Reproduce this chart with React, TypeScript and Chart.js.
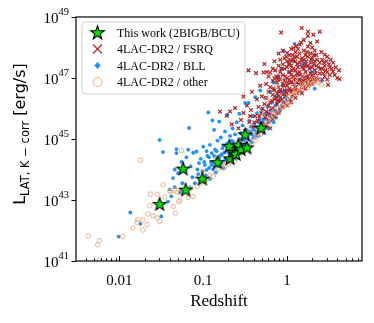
import React, { useEffect, useRef } from "react";
import { Chart, registerables } from "chart.js";
Chart.register(...registerables);

// All points are [log10(redshift), log10(L / erg s^-1)].
const starPts: [number, number][] = [
  [-1.52, 42.87], [-1.21, 43.34], [-1.24, 44.03], [-1.01, 43.70], [-0.83, 44.24],
  [-0.68, 44.37], [-0.64, 44.59], [-0.69, 44.77], [-0.61, 44.51], [-0.58, 44.81],
  [-0.55, 44.67], [-0.48, 44.72], [-0.50, 45.15], [-0.31, 45.37],
];

const fsrqPts: [number, number][] = [
  [-0.80, 45.90], [-0.72, 45.76], [-0.68, 45.90], [-0.66, 45.48], [-0.62, 46.02], [-0.58, 45.35],
  [-0.55, 45.62], [-0.52, 45.85], [-0.52, 46.39], [-0.50, 45.25], [-0.48, 46.10], [-0.46, 47.25],
  [-0.45, 45.55], [-0.43, 45.95], [-0.42, 46.55], [-0.40, 45.40], [-0.38, 45.75], [-0.37, 47.16],
  [-0.36, 46.30], [-0.35, 45.60], [-0.34, 46.05], [-0.33, 45.30], [-0.32, 46.75], [-0.31, 45.85],
  [-0.30, 46.40], [-0.29, 45.50], [-0.28, 47.18], [-0.27, 47.46], [-0.27, 46.15], [-0.26, 45.70],
  [-0.24, 47.20], [-0.20, 47.18], [-0.14, 47.25],
  [-0.25, 45.45], [-0.25, 45.90], [-0.25, 46.35], [-0.25, 46.80],
  [-0.22, 45.60], [-0.22, 46.10], [-0.22, 46.55], [-0.22, 47.05],
  [-0.20, 45.80], [-0.20, 46.20], [-0.20, 45.35], [-0.20, 46.70],
  [-0.17, 45.65], [-0.17, 46.00], [-0.17, 46.45], [-0.17, 46.90], [-0.17, 47.30],
  [-0.15, 45.75], [-0.15, 46.30], [-0.15, 46.60], [-0.15, 47.00], [-0.15, 47.55],
  [-0.12, 45.90], [-0.12, 46.15], [-0.12, 46.50], [-0.12, 46.85],
  [-0.10, 45.85], [-0.10, 46.40], [-0.10, 46.70], [-0.10, 47.05], [-0.10, 47.40], [-0.10, 47.80],
  [-0.08, 46.00], [-0.08, 46.25], [-0.08, 46.60], [-0.08, 46.95], [-0.08, 47.20], [-0.08, 47.60],
  [-0.07, 48.49],
  [-0.05, 46.05], [-0.05, 46.45], [-0.05, 46.80], [-0.05, 47.10], [-0.05, 47.45], [-0.05, 47.90],
  [-0.03, 46.20], [-0.03, 46.60], [-0.03, 46.90], [-0.03, 47.30], [-0.03, 47.65],
  [0.00, 46.10], [0.00, 46.50], [0.00, 46.75], [0.00, 47.00], [0.00, 47.35], [0.00, 47.82], [0.00, 47.55],
  [0.03, 46.30], [0.03, 46.65], [0.03, 46.95], [0.03, 47.20], [0.03, 47.50], [0.03, 47.75],
  [0.05, 46.20], [0.05, 46.55], [0.05, 46.85], [0.05, 47.10], [0.05, 47.40], [0.05, 47.95],
  [0.075, 46.45], [0.075, 46.80], [0.075, 47.05], [0.075, 47.30], [0.075, 47.60], [0.075, 47.98],
  [0.10, 46.35], [0.10, 46.70], [0.10, 47.00], [0.10, 47.25], [0.10, 47.55], [0.10, 47.85],
  [0.12, 46.50], [0.12, 46.85], [0.12, 47.15], [0.12, 47.45], [0.12, 47.70],
  [0.15, 46.60], [0.15, 46.95], [0.15, 47.20], [0.15, 47.50], [0.15, 47.80], [0.15, 48.10],
  [0.167, 48.16], [0.175, 48.64],
  [0.18, 46.50], [0.18, 46.75], [0.18, 47.05], [0.18, 47.35], [0.18, 47.65],
  [0.20, 46.70], [0.20, 47.00], [0.20, 47.30], [0.20, 47.60], [0.20, 47.90],
  [0.22, 46.65], [0.22, 46.90], [0.22, 47.20], [0.22, 47.45], [0.22, 47.75],
  [0.25, 46.75], [0.25, 47.05], [0.25, 47.40], [0.25, 47.70], [0.25, 48.03], [0.25, 48.38], [0.25, 48.52],
  [0.28, 46.85], [0.28, 47.15], [0.28, 47.50], [0.28, 47.80],
  [0.30, 46.80], [0.30, 47.10], [0.30, 47.35], [0.30, 47.65], [0.30, 48.00],
  [0.314, 48.42],
  [0.33, 46.90], [0.33, 47.25], [0.33, 47.55], [0.33, 47.90],
  [0.35, 47.00], [0.35, 47.40], [0.35, 47.75],
  [0.39, 48.52], [0.39, 47.15], [0.39, 47.50],
  [0.42, 46.95], [0.42, 47.30], [0.42, 47.60],
  [0.45, 47.76], [0.45, 47.05], [0.45, 47.40],
  [0.48, 47.70], [0.48, 47.20], [0.48, 46.95], [0.49, 46.78],
  [0.51, 47.10], [0.51, 47.35], [0.55, 47.21], [0.55, 47.50], [0.60, 47.00], [0.624, 46.97],
  [-0.18, 46.25], [-0.16, 46.65], [-0.13, 46.35], [-0.11, 46.95], [-0.09, 46.55], [-0.06, 46.30],
  [-0.04, 46.75], [-0.02, 47.05], [-0.01, 46.40], [0.01, 46.85], [0.02, 47.45], [0.04, 46.60],
  [0.06, 47.25], [0.08, 46.95], [0.09, 47.70], [0.11, 46.60], [0.13, 47.35], [0.14, 46.80],
  [0.16, 47.10], [0.17, 47.60], [0.19, 46.90], [0.21, 47.40], [0.23, 47.05], [0.24, 47.85],
  [0.26, 46.95], [0.27, 47.30], [0.29, 47.60], [0.31, 47.00], [0.32, 47.45], [0.34, 47.15],
  [0.36, 47.60], [0.37, 46.95], [0.40, 47.30], [0.43, 47.15], [0.44, 47.50], [0.46, 47.25],
  [0.50, 47.45], [0.53, 47.30], [0.57, 47.10], [0.36, 48.20], [0.28, 48.15], [0.20, 48.25],
  [0.11, 48.05], [0.04, 47.60], [-0.01, 47.70], [-0.13, 47.05], [-0.06, 47.30], [0.07, 47.75],
  [0.13, 47.95], [0.23, 47.55], [0.32, 47.75], [0.41, 47.85], [0.30, 46.95], [0.18, 46.85],
  [0.08, 46.60], [-0.02, 46.55], [-0.11, 46.25], [-0.19, 46.00], [-0.23, 45.80], [-0.29, 46.00],
  [-0.33, 45.75], [-0.39, 45.55], [-0.44, 45.75], [0.37, 47.35], [0.47, 47.55], [0.52, 47.60],
  [0.58, 47.35], [0.62, 47.25],
];

const bllPts: [number, number][] = [
  [-2.01, 41.80], [-1.87, 42.59], [-1.75, 42.22], [-1.50, 42.46], [-1.52, 44.97], [-1.48, 44.57],
  [-1.42, 42.95], [-1.40, 43.35], [-1.38, 43.12], [-1.36, 43.72], [-1.34, 43.42], [-1.34, 44.00],
  [-1.32, 44.67], [-1.32, 44.54], [-1.30, 43.88], [-1.28, 43.25], [-1.26, 44.25], [-1.25, 43.55],
  [-1.22, 43.95], [-1.20, 44.40], [-1.18, 44.65], [-1.17, 45.36], [-1.16, 43.40], [-1.15, 44.10],
  [-1.13, 43.75], [-1.12, 44.55], [-1.10, 43.55], [-1.08, 44.59], [-1.07, 44.00], [-1.06, 43.85],
  [-1.05, 44.21], [-1.04, 43.66], [-1.03, 44.35], [-1.01, 43.95], [-1.00, 44.75], [-0.98, 44.15],
  [-0.97, 43.80], [-0.96, 43.99], [-0.95, 44.45], [-0.94, 45.87], [-0.93, 44.05], [-0.92, 44.81],
  [-0.92, 43.69], [-0.91, 44.25], [-0.90, 44.54], [-0.89, 45.61], [-0.88, 44.00], [-0.87, 45.30],
  [-0.86, 44.65], [-0.85, 43.90], [-0.84, 44.30], [-0.83, 44.95], [-0.82, 44.10], [-0.81, 45.57],
  [-0.80, 44.45], [-0.79, 45.05], [-0.78, 44.20], [-0.77, 44.70], [-0.76, 44.05], [-0.75, 44.55],
  [-0.74, 45.25], [-0.73, 44.35], [-0.72, 44.85], [-0.71, 45.79], [-0.70, 44.25], [-0.69, 44.60],
  [-0.68, 45.10], [-0.67, 44.40], [-0.66, 44.95], [-0.65, 45.35], [-0.64, 44.50], [-0.63, 44.75],
  [-0.62, 45.15], [-0.61, 44.35], [-0.60, 45.55], [-0.59, 44.65], [-0.58, 44.90], [-0.57, 45.83],
  [-0.56, 44.55], [-0.55, 45.20], [-0.54, 44.80], [-0.53, 45.45], [-0.52, 44.70], [-0.51, 45.00],
  [-0.50, 46.18], [-0.49, 44.85], [-0.48, 45.30], [-0.47, 45.05], [-0.46, 46.18], [-0.45, 45.60],
  [-0.44, 44.95], [-0.43, 45.40], [-0.42, 45.15], [-0.41, 45.75], [-0.40, 45.05], [-0.39, 45.50],
  [-0.38, 46.37], [-0.37, 45.25], [-0.36, 45.85], [-0.35, 45.40], [-0.34, 45.10], [-0.33, 45.65],
  [-0.32, 46.59], [-0.31, 45.30], [-0.30, 45.95], [-0.29, 45.55], [-0.28, 45.20], [-0.27, 45.80],
  [-0.26, 46.35], [-0.25, 45.45], [-0.24, 45.65], [-0.23, 46.05], [-0.22, 45.35], [-0.21, 45.90],
  [-0.20, 46.55], [-0.19, 45.60], [-0.18, 46.20], [-0.17, 45.75], [-0.16, 46.85], [-0.15, 45.95],
  [-0.14, 46.40], [-0.13, 45.70], [-0.12, 46.15], [-0.11, 47.05], [-0.10, 46.55], [-0.09, 45.90],
  [-0.08, 46.35], [-0.07, 47.30], [-0.06, 46.10], [-0.05, 46.75], [-0.04, 47.87], [-0.03, 46.45],
  [-0.02, 46.95], [0.00, 46.60], [0.02, 47.20], [0.04, 46.30], [0.05, 46.85], [0.07, 47.55],
  [0.09, 48.12], [0.10, 46.70], [0.12, 47.10], [0.15, 46.95], [0.18, 47.40], [0.22, 47.00],
  [0.27, 47.35], [0.19, 47.50], [0.29, 47.20], [0.41, 46.90], [0.24, 46.80], [0.33, 46.65],
  [0.16, 46.55], [0.06, 46.40], [-0.01, 46.25],
  [-0.70, 44.55], [-0.68, 44.75], [-0.66, 44.30], [-0.64, 44.90], [-0.62, 44.60], [-0.60, 44.45],
  [-0.58, 44.70], [-0.56, 45.00], [-0.54, 44.55], [-0.52, 44.95], [-0.50, 44.75], [-0.48, 45.05],
  [-0.46, 44.80], [-0.44, 45.25], [-0.42, 44.90], [-0.40, 45.30], [-0.38, 45.10], [-0.36, 45.20],
  [-0.34, 45.55], [-0.32, 45.25], [-0.30, 45.45], [-0.28, 45.65], [-0.26, 45.35], [-0.24, 45.85],
  [-0.22, 45.55], [-0.20, 45.75], [-0.18, 45.95], [-0.16, 45.55], [-0.14, 46.10], [-0.12, 45.85],
  [-0.10, 46.25], [-0.08, 46.00], [-0.06, 46.55], [-0.04, 46.20], [-0.02, 46.35],
  [-0.99, 44.25], [-0.96, 44.60], [-0.93, 44.40], [-0.90, 44.15], [-0.87, 44.45], [-0.84, 44.60],
  [-0.81, 44.35], [-0.78, 44.50], [-0.76, 44.80], [-0.74, 44.30],
];

const otherPts: [number, number][] = [
  [-2.37, 41.83], [-2.24, 41.67], [-2.26, 41.53], [-2.24, 41.02], [-1.96, 41.80], [-1.75, 44.30],
  [-1.84, 42.08], [-1.79, 42.26], [-1.78, 42.35], [-1.72, 42.35], [-1.72, 42.02], [-1.67, 42.19],
  [-1.66, 42.54], [-1.60, 42.48], [-1.55, 42.41], [-1.52, 42.30], [-1.64, 42.81], [-1.63, 43.19],
  [-1.55, 43.19], [-1.46, 43.10], [-1.48, 43.50], [-1.40, 43.30], [-1.36, 42.79], [-1.33, 42.57],
  [-1.32, 43.26], [-1.28, 43.00], [-1.26, 44.62], [-1.29, 42.95], [-1.27, 43.25], [-1.18, 43.08],
  [-1.12, 43.12], [-1.15, 43.40], [-1.03, 43.55], [-1.07, 43.44], [-1.39, 43.28], [-1.34, 43.33],
  [-0.98, 43.62], [-0.95, 43.70], [-0.92, 43.82], [-0.88, 43.78], [-0.85, 43.95], [-0.82, 44.02],
  [-0.78, 44.10], [-0.75, 44.05], [-0.72, 44.22], [-0.70, 44.18], [-0.66, 44.30], [-0.62, 44.28],
  [-0.60, 44.45], [-0.57, 44.42], [-0.54, 44.55], [-0.50, 44.62], [-0.48, 44.70], [-0.45, 44.78],
  [-0.42, 44.87], [-0.40, 45.00], [-0.38, 44.95], [-0.36, 45.08], [-0.34, 45.20], [-0.32, 45.15],
  [-0.30, 45.30], [-0.28, 45.38], [-0.26, 45.45], [-0.24, 45.55], [-0.22, 45.50], [-0.20, 45.70],
  [-0.18, 45.65], [-0.16, 45.80], [-0.14, 45.90], [-0.12, 45.85], [-0.10, 46.00], [-0.08, 46.10],
  [-0.06, 46.05], [-0.04, 46.20], [-0.02, 46.15], [0.00, 46.30], [0.02, 46.39], [0.04, 46.25],
  [0.06, 46.45], [0.075, 46.72], [0.09, 46.50], [0.11, 46.60], [0.13, 46.55], [0.15, 46.70],
  [0.17, 46.65], [0.19, 46.80], [0.21, 46.75], [0.23, 46.85], [0.25, 46.70], [0.27, 46.78],
  [0.29, 46.90], [0.31, 46.82], [0.33, 46.95], [0.35, 46.89], [0.38, 46.85], [0.41, 46.78],
  [-0.12, 46.72], [-0.04, 46.94], [-0.20, 45.96], [-0.36, 45.19], [-0.24, 46.30], [-0.30, 45.85],
  [0.10, 46.95], [0.20, 47.05], [-0.65, 44.70], [-0.55, 44.95], [-0.45, 45.30], [-0.85, 44.30],
  [-1.00, 43.90],
];

const xMin = 0.00303;
const xMax = 7.85;
const yMinExp = 41;
const yMaxExp = 49;
const xTickValues = [0.01, 0.1, 1];
const xTickLabels = ["0.01", "0.1", "1"];
const yTickExps = [41, 43, 45, 47, 49];
const xTitle = "Redshift";
const yTitleMain = "L";
const yTitleSub = "LAT, K \u2212 corr";
const yTitleUnit = " [erg/s]";
const legendLabels = [
  "This work (2BIGB/BCU)",
  "4LAC-DR2 / FSRQ",
  "4LAC-DR2 / BLL",
  "4LAC-DR2 / other",
];

const GREEN = "#00e000";
const RED = "rgb(178,34,34)";
const BLUE = "rgb(30,144,255)";
const ORANGE = "rgba(232,160,112,0.85)";
const SERIF = '"Liberation Serif", "Times New Roman", serif';
const SANS = '"DejaVu Sans", sans-serif';

const toXY = (pts: [number, number][]) =>
  pts.map(([lz, ll]) => ({ x: Math.pow(10, lz), y: Math.pow(10, ll) }));

function starPath(ctx: CanvasRenderingContext2D, cx: number, cy: number, ro: number, ri: number) {
  ctx.beginPath();
  for (let i = 0; i < 10; i++) {
    const r = i % 2 === 0 ? ro : ri;
    const a = -Math.PI / 2 + (i * Math.PI) / 5;
    const px = cx + r * Math.cos(a);
    const py = cy + r * Math.sin(a);
    if (i === 0) ctx.moveTo(px, py);
    else ctx.lineTo(px, py);
  }
  ctx.closePath();
}

function makeStar(): HTMLCanvasElement {
  const size = 18;
  const c = document.createElement("canvas");
  c.width = size;
  c.height = size;
  const g = c.getContext("2d")!;
  starPath(g, size / 2, size / 2 + 0.5, 6.8, 2.8);
  g.fillStyle = GREEN;
  g.fill();
  g.lineWidth = 1.1;
  g.strokeStyle = "#000";
  g.lineJoin = "miter";
  g.stroke();
  return c;
}

const decorPlugin = {
  id: "decor",
  afterDatasetsDraw(chart: any) {
    const { ctx, chartArea: a, scales } = chart;
    const x = scales.x;
    const y = scales.y;
    ctx.save();
    ctx.fillStyle = "#000";
    ctx.strokeStyle = "#000";

    // x ticks (inward)
    ctx.lineWidth = 0.9;
    for (let d = -3; d <= 1; d++) {
      for (let m = 1; m <= 9; m++) {
        const v = m * Math.pow(10, d);
        if (v < xMin || v > xMax) continue;
        const px = Math.round(x.getPixelForValue(v)) + 0.5;
        const len = m === 1 ? 5 : 2.8;
        ctx.beginPath();
        ctx.moveTo(px, a.bottom);
        ctx.lineTo(px, a.bottom - len);
        ctx.stroke();
      }
    }
    ctx.font = "15px " + SERIF;
    ctx.textAlign = "center";
    ctx.textBaseline = "alphabetic";
    xTickValues.forEach((v, i) => {
      ctx.fillText(xTickLabels[i], x.getPixelForValue(v), 285);
    });
    ctx.font = "17px " + SERIF;
    ctx.fillText(xTitle, (a.left + a.right) / 2, 306);

    // y ticks (outward)
    ctx.lineWidth = 1;
    yTickExps.forEach((e) => {
      const py = Math.round(y.getPixelForValue(Math.pow(10, e))) + 0.5;
      ctx.beginPath();
      ctx.moveTo(a.left - 4.5, py);
      ctx.lineTo(a.left, py);
      ctx.stroke();
      ctx.font = "10.5px " + SERIF;
      const sup = String(e);
      const sw = ctx.measureText(sup).width;
      const right = a.left - 7;
      ctx.textAlign = "left";
      ctx.fillText(sup, right - sw, py - 3);
      ctx.font = "15px " + SERIF;
      const bw = ctx.measureText("10").width;
      ctx.fillText("10", right - sw - bw, py + 5);
    });

    // frame
    ctx.lineWidth = 1.2;
    ctx.strokeRect(a.left, a.top, a.right - a.left, a.bottom - a.top);

    // y title
    ctx.save();
    ctx.translate(25, 134);
    ctx.rotate(-Math.PI / 2);
    ctx.textAlign = "left";
    ctx.font = "16px " + SANS;
    const w1 = ctx.measureText(yTitleMain).width;
    const w3 = ctx.measureText(yTitleUnit).width;
    ctx.font = "11.5px " + SANS;
    const w2 = ctx.measureText(yTitleSub).width;
    let cx = -(w1 + w2 + w3) / 2;
    ctx.font = "16px " + SANS;
    ctx.fillText(yTitleMain, cx, 0);
    cx += w1;
    ctx.font = "11.5px " + SANS;
    ctx.fillText(yTitleSub, cx, 3.5);
    cx += w2;
    ctx.font = "16px " + SANS;
    ctx.fillText(yTitleUnit, cx, 0);
    ctx.restore();

    // legend
    const lx = 82, ly = 22, lw = 163, lh = 72, r = 3;
    ctx.beginPath();
    ctx.moveTo(lx + r, ly);
    ctx.arcTo(lx + lw, ly, lx + lw, ly + lh, r);
    ctx.arcTo(lx + lw, ly + lh, lx, ly + lh, r);
    ctx.arcTo(lx, ly + lh, lx, ly, r);
    ctx.arcTo(lx, ly, lx + lw, ly, r);
    ctx.closePath();
    ctx.fillStyle = "rgba(255,255,255,0.85)";
    ctx.fill();
    ctx.strokeStyle = "rgb(210,210,210)";
    ctx.lineWidth = 1;
    ctx.stroke();

    const rows = [32.5, 49, 65.5, 82];
    const mx = 97.5;
    starPath(ctx, mx, rows[0] + 0.5, 7.2, 2.9);
    ctx.fillStyle = GREEN;
    ctx.fill();
    ctx.strokeStyle = "#000";
    ctx.lineWidth = 1.1;
    ctx.stroke();
    ctx.strokeStyle = RED;
    ctx.lineWidth = 1.1;
    ctx.beginPath();
    ctx.moveTo(mx - 4.5, rows[1] - 4.5);
    ctx.lineTo(mx + 4.5, rows[1] + 4.5);
    ctx.moveTo(mx + 4.5, rows[1] - 4.5);
    ctx.lineTo(mx - 4.5, rows[1] + 4.5);
    ctx.stroke();
    ctx.fillStyle = BLUE;
    ctx.beginPath();
    ctx.moveTo(mx, rows[2] - 3.5);
    ctx.lineTo(mx + 3.2, rows[2]);
    ctx.lineTo(mx, rows[2] + 3.5);
    ctx.lineTo(mx - 3.2, rows[2]);
    ctx.closePath();
    ctx.fill();
    ctx.strokeStyle = ORANGE;
    ctx.lineWidth = 1;
    ctx.beginPath();
    ctx.arc(mx, rows[3], 4.5, 0, Math.PI * 2);
    ctx.stroke();

    ctx.fillStyle = "#000";
    ctx.font = "12px " + SERIF;
    ctx.textAlign = "left";
    legendLabels.forEach((t, i) => ctx.fillText(t, 117, rows[i] + 4));

    ctx.restore();
  },
};

export default function App() {
  const ref = useRef<HTMLCanvasElement | null>(null);
  useEffect(() => {
    document.body.style.margin = "0";
    const canvas = ref.current!;
    const star = makeStar();
    const chart = new Chart(canvas, {
      type: "scatter",
      data: {
        datasets: [
          {
            label: legendLabels[0],
            data: toXY(starPts),
            pointStyle: star as any,
            pointRadius: 7,
            clip: 0,
          } as any,
          {
            label: legendLabels[3],
            data: toXY(otherPts),
            pointStyle: "circle",
            pointRadius: 2.3,
            backgroundColor: "rgba(0,0,0,0)",
            borderColor: ORANGE,
            borderWidth: 0.9,
            clip: 0,
          },
          {
            label: legendLabels[1],
            data: toXY(fsrqPts),
            pointStyle: "crossRot",
            pointRadius: 2.6,
            borderColor: RED,
            borderWidth: 1.2,
            clip: 0,
          },
          {
            label: legendLabels[2],
            data: toXY(bllPts),
            pointStyle: "circle",
            pointRadius: 1.9,
            backgroundColor: BLUE,
            borderColor: BLUE,
            borderWidth: 0,
            clip: 0,
          },
        ],
      },
      options: {
        animation: false,
        responsive: false,
        devicePixelRatio: 1,
        events: [],
        layout: { padding: { left: 76, top: 17, right: 12, bottom: 62 } },
        plugins: { legend: { display: false }, tooltip: { enabled: false } },
        scales: {
          x: { type: "logarithmic", min: xMin, max: xMax, display: false },
          y: {
            type: "logarithmic",
            min: Math.pow(10, yMinExp),
            max: Math.pow(10, yMaxExp),
            display: false,
          },
        },
      },
      plugins: [decorPlugin],
    });
    return () => chart.destroy();
  }, []);
  return (
    <div style={{ width: 374, height: 323, background: "#fff" }}>
      <canvas ref={ref} width={374} height={323} style={{ display: "block" }} />
    </div>
  );
}
